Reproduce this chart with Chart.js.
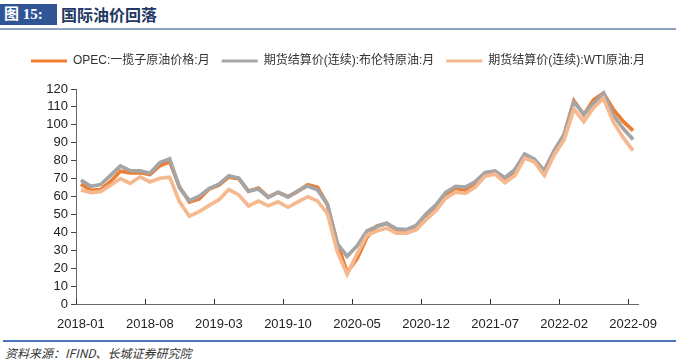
<!DOCTYPE html>
<html><head><meta charset="utf-8">
<script src="https://cdn.jsdelivr.net/npm/chart.js@4"></script>
<style>
body{margin:0;width:676px;height:361px;background:#fff;position:relative;overflow:hidden;font-family:"Liberation Sans","Noto Sans CJK SC",sans-serif;}
#tbox{position:absolute;left:0;top:4px;width:57px;height:21px;background:#2F5597;color:#fff;font:bold 15px "Liberation Serif","Noto Sans CJK SC",serif;line-height:21px;padding-left:4px;box-sizing:border-box;white-space:nowrap}
#ttext{position:absolute;left:61px;top:3px;font:bold 16px "Noto Sans CJK SC";color:#1F3864;line-height:22px;white-space:nowrap}
#tline{position:absolute;left:0;top:28px;width:676px;height:2px;background:#8EA3C0}
#wrap{position:absolute;left:0;top:36px;width:676px;height:304px}
#fline{position:absolute;left:3px;top:340px;width:673px;height:2px;background:#4A76B8}
#src{position:absolute;left:5px;top:344px;font:italic 12px "Noto Sans CJK SC";color:#333;white-space:nowrap}
</style></head>
<body>
<div id="tbox">图 15:</div>
<div id="ttext">国际油价回落</div>
<div id="tline"></div>
<div id="wrap"><canvas id="c"></canvas></div>
<div id="fline"></div>
<div id="src">资料来源：IFIND、长城证券研究院</div>
<script>
const months = [
'2018-01','2018-02','2018-03','2018-04','2018-05','2018-06','2018-07','2018-08','2018-09','2018-10','2018-11','2018-12',
'2019-01','2019-02','2019-03','2019-04','2019-05','2019-06','2019-07','2019-08','2019-09','2019-10','2019-11','2019-12',
'2020-01','2020-02','2020-03','2020-04','2020-05','2020-06','2020-07','2020-08','2020-09','2020-10','2020-11','2020-12',
'2021-01','2021-02','2021-03','2021-04','2021-05','2021-06','2021-07','2021-08','2021-09','2021-10','2021-11','2021-12',
'2022-01','2022-02','2022-03','2022-04','2022-05','2022-06','2022-07','2022-08','2022-09'];
const tickLabels = ['2018-01','2018-08','2019-03','2019-10','2020-05','2020-12','2021-07','2022-02','2022-09'];
const seriesNames = ['OPEC:一揽子原油价格:月','期货结算价(连续):布伦特原油:月','期货结算价(连续):WTI原油:月'];
const opec = [
66.9,63.5,63.8,68.4,74.1,73.2,73.3,72.3,77.2,79.4,65.3,56.9,
58.7,64.2,66.4,70.8,70.0,62.9,64.7,59.6,62.4,59.9,62.9,66.5,
65.1,55.5,33.9,17.7,25.2,37.1,43.4,45.0,41.5,40.1,42.6,49.2,
54.4,61.0,64.6,63.2,66.9,71.9,73.5,70.3,73.9,82.1,80.4,74.4,
85.4,94.4,113.5,105.6,113.9,117.7,108.6,101.9,96.8];
const brent = [
69.1,65.7,66.7,71.8,77.0,74.4,74.3,73.0,78.9,81.0,64.8,57.7,
60.2,64.4,66.9,71.6,70.3,63.0,64.2,59.5,62.3,59.7,63.2,65.9,
63.7,55.5,33.7,26.6,32.4,40.8,43.2,45.0,41.9,41.5,43.9,50.2,
55.3,62.3,65.7,65.3,68.3,73.4,74.3,70.5,74.9,83.7,80.8,74.3,
85.6,94.5,112.8,105.9,111.9,117.8,105.3,97.9,91.8];
const wti = [
63.7,62.2,62.7,66.3,70.0,67.3,71.0,68.1,70.2,70.8,57.0,49.0,
51.6,55.0,58.2,63.9,60.9,54.7,57.4,54.8,57.0,54.0,57.0,59.9,
57.5,50.5,29.2,16.6,28.0,38.3,40.7,42.3,39.6,39.6,41.4,47.1,
52.1,59.1,62.4,61.7,65.2,71.4,72.5,67.7,71.6,81.5,79.2,71.7,
83.2,91.6,108.8,101.8,109.6,114.8,101.6,92.8,85.6];
const colors = ['#ED7D31','#A5A5A5','#F6B98F'];

const innerTicks = {
  id:'innerTicks',
  afterDatasetsDraw(chart){
    const x = chart.scales.x, c = chart.ctx;
    const half = (x.getPixelForValue(1) - x.getPixelForValue(0)) / 2;
    c.save(); c.strokeStyle = '#333'; c.lineWidth = 1;
    months.forEach((m, i) => {
      if (!tickLabels.includes(m)) return;
      const px = Math.round(x.getPixelForValue(i) - half) + 0.5;
      c.beginPath(); c.moveTo(px, x.top); c.lineTo(px, x.top - 5); c.stroke();
    });
    c.restore();
  }
};
const legendGap = {
  id:'legendGap',
  afterInit(chart){
    const lg = chart.legend; if (!lg) return;
    const f = lg.fit;
    lg.fit = function(){ f.call(this); this.height += 12; };
  }
};

new Chart(document.getElementById('c'), {
  type:'line',
  data:{
    labels: months,
    datasets:[
      {label:seriesNames[0], data:opec, borderColor:colors[0], backgroundColor:colors[0], order:3},
      {label:seriesNames[1], data:brent, borderColor:colors[1], backgroundColor:colors[1], order:2},
      {label:seriesNames[2], data:wti, borderColor:colors[2], backgroundColor:colors[2], order:1}
    ]
  },
  options:{
    responsive:true, maintainAspectRatio:false, animation:false, devicePixelRatio:1,
    elements:{line:{borderWidth:3.7, tension:0, borderJoinStyle:'miter'}, point:{radius:0}},
    layout:{padding:{top:7,left:0,right:0,bottom:0}},
    plugins:{
      tooltip:{enabled:false},
      legend:{
        position:'top', align:'center',
        labels:{
          boxWidth:36, boxHeight:3, padding:12, color:'#333',
          font:{size:12, family:'"Liberation Sans","Noto Sans CJK SC",sans-serif'},
          sort:(a,b)=>a.datasetIndex-b.datasetIndex,
          generateLabels:(chart)=>Chart.defaults.plugins.legend.labels.generateLabels(chart).map(l=>Object.assign(l,{lineWidth:0, fillStyle:l.strokeStyle}))
        }
      }
    },
    scales:{
      x:{
        type:'category', offset:true,
        grid:{display:false},
        border:{display:true, color:'#666', width:1},
        ticks:{autoSkip:false, maxRotation:0, padding:5, color:'#222',
          font:{size:13, family:'"Liberation Sans",sans-serif'},
          callback:(v,i)=> tickLabels.includes(months[i]) ? months[i] : ''},
        afterFit:(s)=>{ s.height = 36; }
      },
      y:{
        min:0, max:120,
        grid:{drawOnChartArea:false, tickLength:5, color:'#444'},
        border:{display:true, color:'#666', width:1},
        ticks:{stepSize:10, autoSkip:false, padding:3, color:'#222', font:{size:13, family:'"Liberation Sans",sans-serif'}},
        afterFit:(s)=>{ s.width = 76; }
      },
      yR:{
        position:'right', display:true,
        grid:{display:false}, border:{display:false}, ticks:{display:false},
        afterFit:(s)=>{ s.width = 38; }
      }
    }
  },
  plugins:[innerTicks, legendGap]
});
</script>
</body></html>
